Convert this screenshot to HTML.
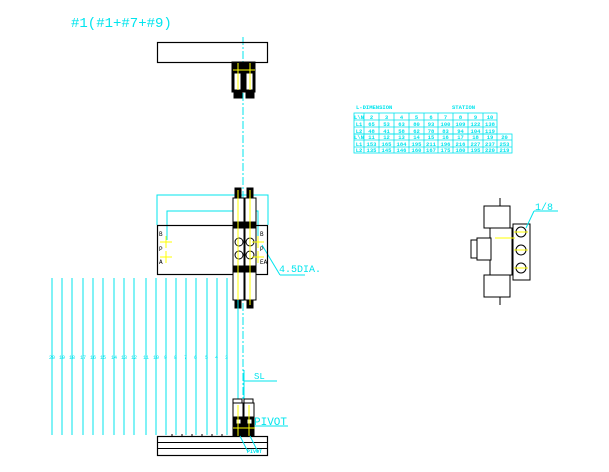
<!DOCTYPE html>
<html><head><meta charset="utf-8"><style>
html,body{margin:0;padding:0;background:#fff;}
svg{display:block;}
text{font-family:"Liberation Mono",monospace;fill:#00e5ee;}
.t text{text-anchor:middle;font-size:5.5px;font-weight:bold;}
</style></head><body>
<svg width="609" height="472" viewBox="0 0 609 472" xmlns="http://www.w3.org/2000/svg">
<rect width="609" height="472" fill="#fff"/>
<text x="71" y="27" font-size="14">#1(#1+#7+#9)</text>
<line x1="243" y1="37" x2="243" y2="400" stroke="#00e5ee" stroke-width="1" stroke-dasharray="8,2,2,2"/>
<rect x="157.5" y="42.5" width="110" height="20" fill="none" stroke="#000" stroke-width="1.2"/>
<g stroke="#000" fill="#fff" stroke-width="1">
<rect x="232" y="62" width="11" height="30" fill="#000"/>
<rect x="244" y="62" width="11" height="30" fill="#000"/>
<rect x="234" y="73" width="7" height="17" fill="#fff"/>
<rect x="246" y="73" width="7" height="17" fill="#fff"/>
<rect x="234" y="92" width="8" height="6" fill="#000"/>
<rect x="246" y="92" width="8" height="6" fill="#000"/>
</g>
<g stroke="#ff0" stroke-width="1" fill="none">
<line x1="233" y1="70" x2="255" y2="70"/><line x1="238" y1="63" x2="238" y2="90"/><line x1="250" y1="63" x2="250" y2="90"/>
</g>
<g stroke="#00e5ee" stroke-width="1" fill="none">
<polyline points="157,225 157,195 268,195 268,225"/>
<polyline points="167,240 167,211 258,211 258,240"/>
<line x1="262" y1="245" x2="280" y2="275"/><line x1="280" y1="275" x2="305" y2="275"/>
</g>
<rect x="157.5" y="225.5" width="110" height="49" fill="none" stroke="#000" stroke-width="1.2"/>
<g stroke="#000" stroke-width="1" fill="#fff">
<rect x="233" y="198" width="11" height="102"/>
<rect x="245" y="198" width="11" height="102"/>
<rect x="234" y="222" width="21" height="6" fill="#000"/>
<rect x="234" y="266" width="21" height="6" fill="#000"/>
<circle cx="239" cy="242" r="4"/><circle cx="250" cy="242" r="4"/>
<circle cx="239" cy="255" r="4"/><circle cx="250" cy="255" r="4"/>
<rect x="235" y="188" width="6" height="10" fill="#000"/><rect x="247" y="188" width="6" height="10" fill="#000"/>
<rect x="235" y="300" width="6" height="8" fill="#000"/><rect x="247" y="300" width="6" height="8" fill="#000"/>
</g>
<g stroke="#ff0" stroke-width="1" fill="none">
<line x1="238" y1="190" x2="238" y2="305"/><line x1="250" y1="190" x2="250" y2="305"/>
<line x1="160" y1="242" x2="172" y2="242"/><line x1="166" y1="236" x2="166" y2="248"/>
<line x1="160" y1="257" x2="172" y2="257"/><line x1="166" y1="251" x2="166" y2="263"/>
<line x1="252" y1="242" x2="264" y2="242"/><line x1="258" y1="236" x2="258" y2="248"/>
<line x1="252" y1="257" x2="264" y2="257"/><line x1="258" y1="251" x2="258" y2="263"/>
</g>
<g font-size="6" fill="#000">
<text x="159" y="236" style="fill:#000">B</text><text x="159" y="251" style="fill:#000">P</text><text x="159" y="264" style="fill:#000">A</text>
<text x="260" y="236" style="fill:#000">B</text><text x="260" y="251" style="fill:#000">P</text><text x="260" y="264" style="fill:#000">EA</text>
</g>
<text x="279" y="272" font-size="10">4.5DIA.</text>
<g stroke="#00e5ee" stroke-width="1">
<line x1="52" y1="278" x2="52" y2="435"/><line x1="62" y1="278" x2="62" y2="435"/>
<line x1="72" y1="278" x2="72" y2="435"/><line x1="83" y1="278" x2="83" y2="435"/>
<line x1="93" y1="278" x2="93" y2="435"/><line x1="103" y1="278" x2="103" y2="435"/>
<line x1="114" y1="278" x2="114" y2="435"/><line x1="124" y1="278" x2="124" y2="435"/>
<line x1="134" y1="278" x2="134" y2="435"/><line x1="146" y1="278" x2="146" y2="435"/>
<line x1="156" y1="278" x2="156" y2="435"/><line x1="166" y1="278" x2="166" y2="435"/>
<line x1="176" y1="278" x2="176" y2="435"/><line x1="186" y1="278" x2="186" y2="435"/>
<line x1="196" y1="278" x2="196" y2="435"/><line x1="207" y1="278" x2="207" y2="435"/>
<line x1="217" y1="278" x2="217" y2="435"/><line x1="227" y1="278" x2="227" y2="435"/>
<line x1="238" y1="300" x2="238" y2="400"/>
<line x1="244" y1="370" x2="244" y2="400"/>
<line x1="244" y1="381" x2="277" y2="381"/>
<line x1="254" y1="426" x2="288" y2="426"/>
</g>
<g font-size="5">
<text x="49" y="359">20</text><text x="59" y="359">19</text><text x="69" y="359">18</text><text x="80" y="359">17</text>
<text x="90" y="359">16</text><text x="100" y="359">15</text><text x="111" y="359">14</text><text x="121" y="359">13</text>
<text x="131" y="359">12</text><text x="143" y="359">11</text><text x="153" y="359">10</text><text x="164" y="359">9</text>
<text x="174" y="359">8</text><text x="184" y="359">7</text><text x="194" y="359">6</text><text x="205" y="359">5</text>
<text x="215" y="359">4</text><text x="225" y="359">3</text>
</g>
<text x="254" y="379" font-size="9">SL</text>
<text x="254" y="425" font-size="11">PIVOT</text>
<g stroke="#000" stroke-width="1" fill="#fff">
<rect x="233" y="399" width="9" height="4"/><rect x="244" y="399" width="9" height="4"/>
<rect x="233" y="403" width="10" height="33"/><rect x="244" y="403" width="10" height="33"/>
<rect x="233" y="417" width="21" height="19" fill="#000"/>
<rect x="236" y="419" width="5" height="5"/><rect x="247" y="419" width="5" height="5"/>
</g>
<g stroke="#ff0" stroke-width="1"><line x1="238" y1="405" x2="238" y2="436"/><line x1="249" y1="405" x2="249" y2="436"/><line x1="233" y1="428" x2="255" y2="428"/></g>
<rect x="157.5" y="436.5" width="110" height="19" fill="none" stroke="#000" stroke-width="1.2"/>
<line x1="157" y1="442.5" x2="268" y2="442.5" stroke="#000"/>
<line x1="157" y1="448.5" x2="268" y2="448.5" stroke="#000"/>
<g stroke="#000" stroke-width="1"><line x1="172" y1="434" x2="172" y2="436"/><line x1="182" y1="434" x2="182" y2="436"/><line x1="192" y1="434" x2="192" y2="436"/><line x1="202" y1="434" x2="202" y2="436"/><line x1="212" y1="434" x2="212" y2="436"/><line x1="222" y1="434" x2="222" y2="436"/></g>
<g stroke="#00e5ee"><line x1="240" y1="436" x2="248" y2="452"/><line x1="250" y1="436" x2="258" y2="452"/></g>
<text x="247" y="453" font-size="5" font-weight="bold">PIVOT</text>
<!-- table -->
<g font-size="5.5" font-weight="bold">
<text x="356" y="109">L-DIMENSION</text><text x="452" y="109">STATION</text>
</g>
<g stroke="#00e5ee" stroke-width="0.8" fill="none">
<rect x="354" y="113" width="143" height="21"/>
<line x1="354" y1="120" x2="497" y2="120"/><line x1="354" y1="127" x2="497" y2="127"/>
<rect x="354" y="134" width="158" height="19"/>
<line x1="354" y1="140" x2="512" y2="140"/><line x1="354" y1="147" x2="512" y2="147"/>
<line x1="364" y1="113" x2="364" y2="153"/><line x1="379" y1="113" x2="379" y2="153"/>
<line x1="394" y1="113" x2="394" y2="153"/><line x1="409" y1="113" x2="409" y2="153"/>
<line x1="424" y1="113" x2="424" y2="153"/><line x1="438" y1="113" x2="438" y2="153"/>
<line x1="453" y1="113" x2="453" y2="153"/><line x1="468" y1="113" x2="468" y2="153"/>
<line x1="483" y1="113" x2="483" y2="153"/><line x1="497" y1="134" x2="497" y2="153"/>
</g>
<g class="t">
<text x="359" y="119">L\N</text><text x="371.5" y="119">2</text><text x="386.5" y="119">3</text><text x="401.5" y="119">4</text><text x="416.5" y="119">5</text><text x="431" y="119">6</text><text x="445.5" y="119">7</text><text x="460.5" y="119">8</text><text x="475.5" y="119">9</text><text x="490" y="119">10</text>
<text x="359" y="126">L1</text><text x="371.5" y="126">65</text><text x="386.5" y="126">53</text><text x="401.5" y="126">63</text><text x="416.5" y="126">80</text><text x="431" y="126">93</text><text x="445.5" y="126">100</text><text x="460.5" y="126">109</text><text x="475.5" y="126">122</text><text x="490" y="126">138</text>
<text x="359" y="133">L2</text><text x="371.5" y="133">48</text><text x="386.5" y="133">41</text><text x="401.5" y="133">58</text><text x="416.5" y="133">62</text><text x="431" y="133">78</text><text x="445.5" y="133">83</text><text x="460.5" y="133">94</text><text x="475.5" y="133">104</text><text x="490" y="133">119</text>
<text x="359" y="139">L\N</text><text x="371.5" y="139">11</text><text x="386.5" y="139">12</text><text x="401.5" y="139">13</text><text x="416.5" y="139">14</text><text x="431" y="139">15</text><text x="445.5" y="139">16</text><text x="460.5" y="139">17</text><text x="475.5" y="139">18</text><text x="490" y="139">19</text><text x="504.5" y="139">20</text>
<text x="359" y="146">L1</text><text x="371.5" y="146">153</text><text x="386.5" y="146">165</text><text x="401.5" y="146">184</text><text x="416.5" y="146">195</text><text x="431" y="146">211</text><text x="445.5" y="146">196</text><text x="460.5" y="146">216</text><text x="475.5" y="146">227</text><text x="490" y="146">237</text><text x="504.5" y="146">253</text>
<text x="359" y="152">L2</text><text x="371.5" y="152">135</text><text x="386.5" y="152">145</text><text x="401.5" y="152">146</text><text x="416.5" y="152">160</text><text x="431" y="152">167</text><text x="445.5" y="152">175</text><text x="460.5" y="152">180</text><text x="475.5" y="152">195</text><text x="490" y="152">220</text><text x="504.5" y="152">219</text>
</g>
<!-- right side view -->
<g stroke="#000" stroke-width="1" fill="#fff">
<rect x="484" y="206" width="26" height="22"/>
<rect x="484" y="275" width="26" height="22"/>
<rect x="490" y="228" width="22" height="47"/>
<rect x="477" y="238" width="14" height="22"/>
<rect x="471" y="240" width="6" height="18"/>
<rect x="513" y="224" width="17" height="56"/>
<circle cx="521" cy="232" r="5"/><circle cx="521" cy="250" r="5"/><circle cx="521" cy="268" r="5"/>
<line x1="500" y1="198" x2="500" y2="206"/><line x1="500" y1="297" x2="500" y2="305"/>
</g>
<g stroke="#ff0"><line x1="495" y1="238" x2="515" y2="238"/><line x1="514" y1="232" x2="528" y2="232"/><line x1="514" y1="250" x2="528" y2="250"/><line x1="514" y1="268" x2="528" y2="268"/></g>
<g stroke="#00e5ee"><line x1="526" y1="228" x2="534" y2="211"/><line x1="534" y1="211" x2="558" y2="211"/></g>
<text x="535" y="210" font-size="10">1/8</text>
</svg>
</body></html>
